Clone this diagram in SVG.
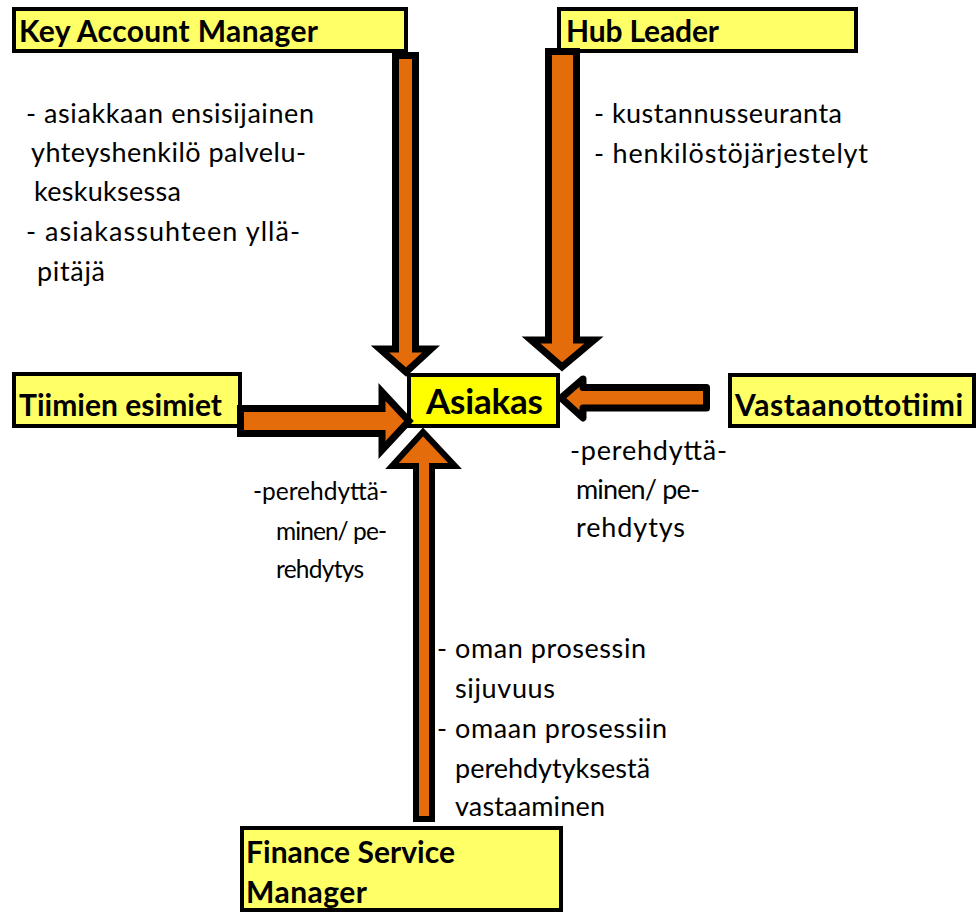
<svg xmlns="http://www.w3.org/2000/svg" width="976" height="913" viewBox="0 0 976 913">
<style>
.box{fill:#FFFF66;stroke:#000;stroke-width:4}
.main{fill:#FFFF00;stroke:#000;stroke-width:4}
.lbl{font-family:Lato,"Open Sans",sans-serif;font-weight:bold;font-size:30px;fill:#000}
.big{font-family:Lato,"Open Sans",sans-serif;font-weight:bold;font-size:35px;fill:#000}
.txt{font-family:Lato,"Open Sans",sans-serif;font-size:27px;fill:#000}
.sm{font-size:24.5px}
.arr{fill:#E46C0A;stroke:#000;stroke-width:7;stroke-linejoin:miter}
</style>
<rect width="976" height="913" fill="#fff"/>
<g id="kam"><rect class="box" x="14" y="9" width="392" height="42"/><text class="lbl" x="19" y="42" textLength="299" lengthAdjust="spacing">Key Account Manager</text></g>
<g id="hub"><rect class="box" x="559" y="9" width="297" height="42"/><text class="lbl" x="566" y="42" textLength="153" lengthAdjust="spacing">Hub Leader</text></g>
<g id="asiakas"><rect class="main" x="409" y="375" width="149" height="51"/><text class="big" x="426" y="414" textLength="117" lengthAdjust="spacing">Asiakas</text></g>
<g id="tiimien"><rect class="box" x="14" y="374" width="226" height="52"/><text class="lbl" x="19" y="416" textLength="203" lengthAdjust="spacing">Tiimien esimiet</text></g>
<g id="vastaanotto"><rect class="box" x="730" y="375" width="244" height="51"/><text class="lbl" x="735" y="416" textLength="228" lengthAdjust="spacing">Vastaanottotiimi</text></g>
<g id="fsm"><rect class="box" x="242" y="828" width="319" height="82"/><text class="lbl" x="246" y="863" textLength="209" lengthAdjust="spacing">Finance Service</text><text class="lbl" x="246" y="903" textLength="121" lengthAdjust="spacing">Manager</text></g>
<g id="connectors">
<polygon class="arr" points="395.5,55.5 415.5,55.5 415.5,349 431,349 406,372 380,349 395.5,349"/>
<polygon class="arr" points="548.5,51.5 576.5,51.5 576.5,340 594,340 562,367 531,340 548.5,340"/>
<polygon class="arr" points="240.5,408.5 382,408.5 382,392 409,421 382,450 382,433.5 240.5,433.5"/>
<polygon class="arr" style="stroke-linejoin:round" points="706.5,387.5 583,387.5 583,379 561,398 583,418 583,408 706.5,408"/>
<polygon class="arr" style="stroke-width:6" points="416,819 432,819 432,466 455,466 423,432 392,466 416,466"/>
</g>
<g id="notes">
<text class="txt" x="26" y="123" textLength="288" lengthAdjust="spacing">- asiakkaan ensisijainen</text>
<text class="txt" x="31" y="162" textLength="275" lengthAdjust="spacing">yhteyshenkilö palvelu-</text>
<text class="txt" x="34" y="201" textLength="147" lengthAdjust="spacing">keskuksessa</text>
<text class="txt" x="26" y="241" textLength="274" lengthAdjust="spacing">- asiakassuhteen yllä-</text>
<text class="txt" x="37" y="281" textLength="68" lengthAdjust="spacing">pitäjä</text>
<text class="txt" x="594" y="123" textLength="248" lengthAdjust="spacing">- kustannusseuranta</text>
<text class="txt" x="594" y="163" textLength="274" lengthAdjust="spacing">- henkilöstöjärjestelyt</text>
<text class="txt sm" x="253" y="500" textLength="135" lengthAdjust="spacing">-perehdyttä-</text>
<text class="txt sm" x="276" y="540" textLength="111" lengthAdjust="spacing">minen/ pe-</text>
<text class="txt sm" x="276" y="578" textLength="88" lengthAdjust="spacing">rehdytys</text>
<text class="txt" x="570" y="460" textLength="157" lengthAdjust="spacing">-perehdyttä-</text>
<text class="txt" x="576" y="499" textLength="124" lengthAdjust="spacing">minen/ pe-</text>
<text class="txt" x="576" y="537" textLength="109" lengthAdjust="spacing">rehdytys</text>
<text class="txt" x="437" y="658" textLength="209" lengthAdjust="spacing">- oman prosessin</text>
<text class="txt" x="455" y="698" textLength="100" lengthAdjust="spacing">sijuvuus</text>
<text class="txt" x="437" y="738" textLength="230" lengthAdjust="spacing">- omaan prosessiin</text>
<text class="txt" x="455" y="778">perehdytyksestä</text>
<text class="txt" x="455" y="816" textLength="150" lengthAdjust="spacing">vastaaminen</text>
</g>
</svg>
